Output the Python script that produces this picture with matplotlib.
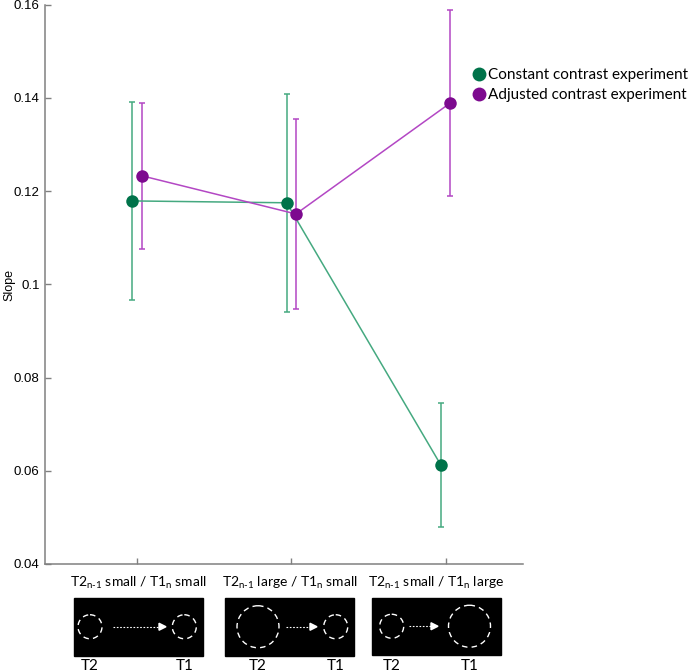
import matplotlib.pyplot as plt
import matplotlib.patches as mpatches
from matplotlib.lines import Line2D
import numpy as np

plt.rcParams['mathtext.fontset'] = 'custom'
plt.rcParams['mathtext.rm'] = 'Lato'

# data
conditions = [1, 2, 3]
constant_slope = [0.1179, 0.1175, 0.0612]
constant_err = [0.0212, 0.0234, 0.0133]
adjusted_slope = [0.1233, 0.1151, 0.1389]
adjusted_err = [0.0157, 0.0203, 0.0199]
yticks = [0.04, 0.06, 0.08, 0.10, 0.12, 0.14, 0.16]

cat_labels = [r'T2$_{\text{n-1}}$ small / T1$_{\text{n}}$ small',
              r'T2$_{\text{n-1}}$ large / T1$_{\text{n}}$ small',
              r'T2$_{\text{n-1}}$ small / T1$_{\text{n}}$ large']

green, green_l = '#00734A', '#45A980'
purple, purple_l = '#7D0A8F', '#B347C4'

W, H = 691, 672
fig = plt.figure(figsize=(W / 100, H / 100), dpi=100)
ax = fig.add_axes([44.5 / W, 1 - 564 / H, (522.7 - 44.5) / W, (564 - 4.7) / H])

x = np.array(conditions, dtype=float)
off = 0.03
ax.errorbar(x - off, constant_slope, yerr=constant_err, fmt='none', ecolor=green_l,
            elinewidth=1.1, capsize=2.5, capthick=1.1)
ax.errorbar(x + off, adjusted_slope, yerr=adjusted_err, fmt='none', ecolor=purple_l,
            elinewidth=1.1, capsize=2.5, capthick=1.1)
ax.plot(x - off, constant_slope, '-', color=green_l, lw=1.1)
ax.plot(x + off, adjusted_slope, '-', color=purple_l, lw=1.1)
ax.plot(x - off, constant_slope, 'o', color=green, ms=9, mec='none')
ax.plot(x + off, adjusted_slope, 'o', color=purple, ms=9, mec='none')

ax.set_xlim(0.4, 3.5)
ax.set_ylim(0.04, 0.16)
ax.set_xticks(conditions)
ax.set_xticklabels([])
ax.set_yticks(yticks)
ax.set_yticklabels(['%g' % v for v in yticks], fontfamily='Liberation Sans', fontsize=9.5)
ax.tick_params(direction='in', length=4, color='#808080', width=1)
for s in ['top', 'right']:
    ax.spines[s].set_visible(False)
for s in ['left', 'bottom']:
    ax.spines[s].set_color('#808080')
    ax.spines[s].set_linewidth(1.1)

handles = [Line2D([], [], ls='none', marker='o', color=green, ms=10, mec='none'),
           Line2D([], [], ls='none', marker='o', color=purple, ms=10, mec='none')]
fig.legend(handles, ['Constant contrast experiment', 'Adjusted contrast experiment'],
           loc='upper left', bbox_to_anchor=(471 / W, 1 - 68 / H), frameon=False,
           prop={'family': 'Lato', 'size': 11}, handletextpad=0.1, labelspacing=0.4,
           handlelength=1.0, borderpad=0, borderaxespad=0)

# stimulus sketches below the axis, in pixel coordinates
ov = fig.add_axes([0, 0, 1, 1], zorder=-1)
ov.set_xlim(0, W)
ov.set_ylim(H, 0)
ov.axis('off')

ov.text(9, 285, 'Slope', rotation=90, ha='center', va='center',
        fontfamily='Liberation Sans', fontsize=9)

box_left = [74, 225, 372]
box_top = [598, 598, 597.5]
box_w, box_h = 129, 57.5
t2_circle = [(90, 12), (258, 21), (391.7, 12)]
t1_circle = [(184.3, 12), (335.7, 12), (469.5, 21)]
arrow_span = [(113, 166), (286, 317), (409, 438)]

for i in range(3):
    l, t = box_left[i], box_top[i]
    cy = t + box_h / 2
    ov.add_patch(mpatches.Rectangle((l, t), box_w, box_h, color='black'))
    for cx, r in (t2_circle[i], t1_circle[i]):
        ov.add_patch(mpatches.Circle((cx, cy), r, fill=False, ec='white', lw=1,
                                     ls=(0, (4, 3))))
    a0, a1 = arrow_span[i]
    ov.plot([a0, a1 - 6], [cy, cy], color='white', lw=0.8, ls=(0, (1.5, 1.5)))
    ov.add_patch(mpatches.Polygon([[a1 - 7, cy - 3.5], [a1 - 7, cy + 3.5], [a1, cy]],
                                  color='white'))
    ov.text(l + box_w / 2, 583, cat_labels[i], ha='center', va='center',
            fontfamily='Lato', fontsize=10)
    ov.text(t2_circle[i][0], 666, 'T2', ha='center', va='center',
            fontfamily='Lato', fontsize=11)
    ov.text(t1_circle[i][0], 666, 'T1', ha='center', va='center',
            fontfamily='Lato', fontsize=11)

fig.savefig('out.png', dpi=100)
